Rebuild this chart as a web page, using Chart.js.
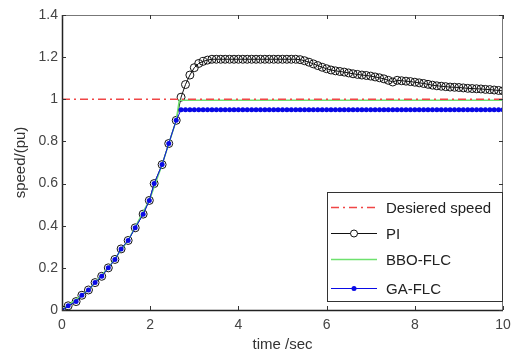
<!DOCTYPE html>
<html>
<head>
<meta charset="utf-8">
<script src="https://cdn.jsdelivr.net/npm/chart.js@4.4.1/dist/chart.umd.min.js"></script>
<style>
  html, body { margin: 0; padding: 0; background: #fff; }
  #wrap { width: 513px; height: 358px; }
</style>
</head>
<body>
<div id="wrap"><canvas id="chart"></canvas></div>
<script>
// sample times (s) shared by PI and GA-FLC
const timeSec = [0, 0.14, 0.32, 0.45, 0.6, 0.75, 0.9, 1.05, 1.2, 1.34, 1.5, 1.66, 1.84, 1.98, 2.09, 2.27, 2.42, 2.59,
    2.7, 2.8, 2.9, 3.0, 3.1, 3.2, 3.3, 3.4, 3.5, 3.6, 3.7, 3.8, 3.9, 4.0, 4.1, 4.2, 4.3, 4.4,
    4.5, 4.6, 4.7, 4.8, 4.9, 5.0, 5.1, 5.2, 5.3, 5.4, 5.5, 5.6, 5.7, 5.8, 5.9, 6.0, 6.1, 6.2,
    6.3, 6.4, 6.5, 6.6, 6.7, 6.8, 6.9, 7.0, 7.1, 7.2, 7.3, 7.4, 7.5, 7.6, 7.7, 7.8, 7.9, 8.0,
    8.1, 8.2, 8.3, 8.4, 8.5, 8.6, 8.7, 8.8, 8.9, 9.0, 9.1, 9.2, 9.3, 9.4, 9.5, 9.6, 9.7, 9.8,
    9.9, 10.0];

const piSpeed = [0, 0.02, 0.04, 0.07, 0.095, 0.13, 0.16, 0.2, 0.24, 0.29, 0.33, 0.39, 0.455, 0.52, 0.6, 0.69, 0.79, 0.9,
    1.01, 1.07, 1.115, 1.15, 1.17, 1.18, 1.186, 1.19, 1.19, 1.19, 1.19, 1.19, 1.19, 1.19, 1.19, 1.19, 1.19, 1.19,
    1.19, 1.19, 1.19, 1.19, 1.19, 1.19, 1.19, 1.19, 1.19, 1.188, 1.183, 1.176, 1.168, 1.16, 1.152, 1.145, 1.139, 1.135,
    1.132, 1.129, 1.125, 1.121, 1.118, 1.115, 1.113, 1.11, 1.106, 1.102, 1.097, 1.09, 1.082, 1.09, 1.088, 1.086, 1.084, 1.081,
    1.078, 1.075, 1.071, 1.067, 1.064, 1.062, 1.06, 1.058, 1.057, 1.056, 1.054, 1.052, 1.051, 1.05, 1.049, 1.047, 1.046, 1.044,
    1.042, 1.04];

const gaSpeed = [0, 0.02, 0.04, 0.07, 0.095, 0.13, 0.16, 0.2, 0.24, 0.29, 0.33, 0.39, 0.455, 0.52, 0.6, 0.69, 0.79, 0.9,
    0.95, 0.95, 0.95, 0.95, 0.95, 0.95, 0.95, 0.95, 0.95, 0.95, 0.95, 0.95, 0.95, 0.95, 0.95, 0.95, 0.95, 0.95,
    0.95, 0.95, 0.95, 0.95, 0.95, 0.95, 0.95, 0.95, 0.95, 0.95, 0.95, 0.95, 0.95, 0.95, 0.95, 0.95, 0.95, 0.95,
    0.95, 0.95, 0.95, 0.95, 0.95, 0.95, 0.95, 0.95, 0.95, 0.95, 0.95, 0.95, 0.95, 0.95, 0.95, 0.95, 0.95, 0.95,
    0.95, 0.95, 0.95, 0.95, 0.95, 0.95, 0.95, 0.95, 0.95, 0.95, 0.95, 0.95, 0.95, 0.95, 0.95, 0.95, 0.95, 0.95,
    0.95, 0.95];

const bboTime = [0, 0.6, 1.05, 1.5, 1.98, 2.27, 2.59, 2.66, 10];
const bboSpeed = [0, 0.095, 0.2, 0.33, 0.52, 0.69, 0.9, 0.995, 0.995];

const desiredTime = [0, 10];
const desiredSpeed = [1, 1];

const xTicks = [0, 2, 4, 6, 8, 10];
const yTicks = [0, 0.2, 0.4, 0.6, 0.8, 1, 1.2, 1.4];

const seriesNames = ['Desiered speed', 'PI', 'BBO-FLC', 'GA-FLC'];

const RED = 'rgb(240,70,70)';
const GREEN = 'rgb(110,225,110)';
const BLUE = 'rgb(10,10,230)';
const FONT = '"Liberation Sans", Arial, sans-serif';

function toPoints(xs, ys) {
    return xs.map((x, i) => ({ x: x, y: ys[i] }));
}

// MATLAB-like frame with inward ticks on all four sides
const framePlugin = {
    id: 'frame',
    afterDraw(chart) {
        const { ctx, chartArea: a, scales } = chart;
        ctx.save();
        ctx.strokeStyle = '#777';
        ctx.lineWidth = 1;
        ctx.strokeRect(a.left + 0.5, a.top + 0.5, a.right - a.left - 1, a.bottom - a.top);
        ctx.strokeStyle = '#222';
        ctx.lineWidth = 1.5;
        ctx.beginPath();
        ctx.moveTo(a.left + 0.5, a.top);
        ctx.lineTo(a.left + 0.5, a.bottom + 0.5);
        ctx.lineTo(a.right, a.bottom + 0.5);
        ctx.stroke();
        ctx.lineWidth = 1;
        ctx.strokeStyle = '#333';
        ctx.beginPath();
        xTicks.forEach(v => {
            const px = Math.round(scales.x.getPixelForValue(v)) + 0.5;
            ctx.moveTo(px, a.bottom); ctx.lineTo(px, a.bottom - 4);
            ctx.moveTo(px, a.top); ctx.lineTo(px, a.top + 4);
        });
        yTicks.forEach(v => {
            const py = Math.round(scales.y.getPixelForValue(v)) + 0.5;
            ctx.moveTo(a.left, py); ctx.lineTo(a.left + 4, py);
            ctx.moveTo(a.right, py); ctx.lineTo(a.right - 4, py);
        });
        ctx.stroke();
        ctx.restore();
    }
};

// boxed legend inside the lower right corner of the plot
const boxLegendPlugin = {
    id: 'boxLegend',
    afterDraw(chart) {
        const { ctx, chartArea: a } = chart;
        const w = 176, h = 109;
        const x0 = a.right - w, y0 = a.bottom - 9 - h;
        ctx.save();
        ctx.fillStyle = '#fff';
        ctx.fillRect(x0, y0, w, h);
        ctx.strokeStyle = '#333';
        ctx.lineWidth = 1;
        ctx.strokeRect(x0 + 0.5, y0 + 0.5, w - 1, h);
        const rows = [15, 41, 67, 96];
        ctx.font = '15px ' + FONT;
        ctx.textBaseline = 'middle';
        rows.forEach((dy, i) => {
            const y = y0 + dy + 0.5;
            const lx0 = x0 + 4, lx1 = x0 + 50;
            ctx.beginPath();
            ctx.lineWidth = 1;
            if (i === 0) { ctx.strokeStyle = RED; ctx.setLineDash([8, 4, 2, 4]); ctx.lineWidth = 1.5; }
            else if (i === 1) { ctx.strokeStyle = '#111'; }
            else if (i === 2) { ctx.strokeStyle = GREEN; ctx.lineWidth = 1.5; }
            else { ctx.strokeStyle = BLUE; }
            ctx.moveTo(lx0, y); ctx.lineTo(lx1, y);
            ctx.stroke();
            ctx.setLineDash([]);
            if (i === 1) {
                ctx.beginPath(); ctx.fillStyle = '#fff'; ctx.strokeStyle = '#111';
                ctx.arc((lx0 + lx1) / 2, y, 3.5, 0, Math.PI * 2); ctx.fill(); ctx.stroke();
            }
            if (i === 3) {
                ctx.beginPath(); ctx.fillStyle = BLUE;
                ctx.arc((lx0 + lx1) / 2, y, 2.5, 0, Math.PI * 2); ctx.fill();
            }
            ctx.fillStyle = '#222';
            ctx.fillText(seriesNames[i], x0 + 59, y + 1);
        });
        ctx.restore();
    }
};

new Chart(document.getElementById('chart').getContext('2d'), {
    type: 'line',
    data: {
        datasets: [
            {
                label: seriesNames[0],
                data: toPoints(desiredTime, desiredSpeed),
                borderColor: RED,
                borderWidth: 1.5,
                borderDash: [8, 4, 2, 4],
                pointRadius: 0,
                order: 1
            },
            {
                label: seriesNames[1],
                data: toPoints(timeSec, piSpeed),
                borderColor: '#111',
                borderWidth: 1,
                pointStyle: 'circle',
                pointRadius: 4,
                pointBorderWidth: 1,
                pointBorderColor: '#111',
                pointBackgroundColor: 'rgba(255,255,255,0)',
                order: 3
            },
            {
                label: seriesNames[2],
                data: toPoints(bboTime, bboSpeed),
                borderColor: GREEN,
                borderWidth: 1.5,
                pointRadius: 0,
                order: 2
            },
            {
                label: seriesNames[3],
                data: toPoints(timeSec, gaSpeed),
                borderColor: BLUE,
                borderWidth: 1,
                pointStyle: 'circle',
                pointRadius: 2.5,
                pointBorderWidth: 0,
                pointBackgroundColor: BLUE,
                order: 0
            }
        ]
    },
    options: {
        responsive: true,
        maintainAspectRatio: false,
        animation: false,
        layout: { autoPadding: false, padding: { left: 12, right: 10, top: 15, bottom: 2 } },
        plugins: {
            legend: { display: false },
            tooltip: { enabled: false }
        },
        scales: {
            x: {
                type: 'linear',
                min: 0,
                max: 10,
                afterBuildTicks: scale => { scale.ticks = xTicks.map(v => ({ value: v })); },
                afterFit: scale => {
                    scale.height = 46;
                    scale.paddingLeft = 0;
                    scale.paddingRight = 0;
                },
                grid: { display: false, drawTicks: false },
                border: { display: false },
                ticks: {
                    color: '#444',
                    padding: 7,
                    maxRotation: 0,
                    font: { family: FONT, size: 14 }
                },
                title: {
                    display: true,
                    text: 'time /sec',
                    color: '#333',
                    padding: { top: 0, bottom: 2 },
                    font: { family: FONT, size: 15 }
                }
            },
            y: {
                type: 'linear',
                min: 0,
                max: 1.4,
                afterBuildTicks: scale => { scale.ticks = yTicks.map(v => ({ value: v })); },
                afterFit: scale => {
                    scale.width = 50;
                    scale.paddingTop = 0;
                    scale.paddingBottom = 0;
                },
                grid: { display: false, drawTicks: false },
                border: { display: false },
                ticks: {
                    color: '#444',
                    padding: 4,
                    font: { family: FONT, size: 14 },
                    callback: v => String(Math.round(v * 10) / 10)
                },
                title: {
                    display: true,
                    text: 'speed/(pu)',
                    color: '#333',
                    padding: { top: 0, bottom: 0 },
                    font: { family: FONT, size: 15 }
                }
            }
        }
    },
    plugins: [framePlugin, boxLegendPlugin]
});
</script>
</body>
</html>
